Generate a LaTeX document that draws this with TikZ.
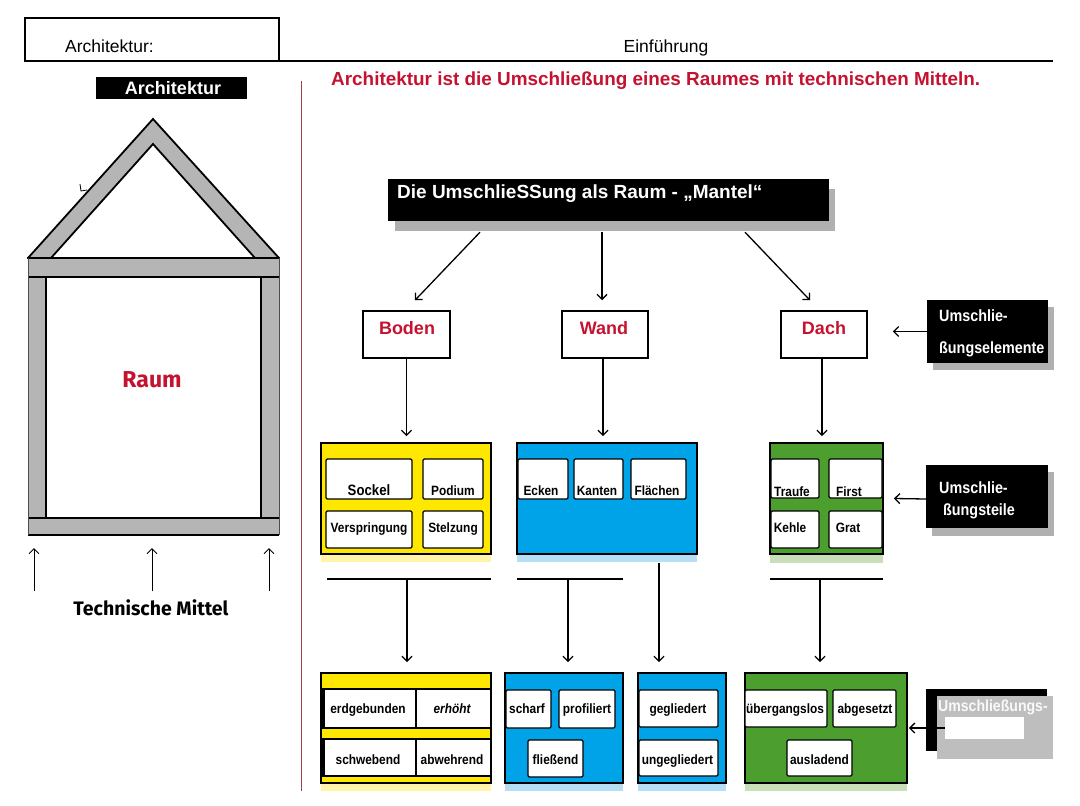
\documentclass[tikz,border=0pt]{standalone}
\usepackage{fontspec}
\setmainfont{Liberation Sans}
\newfontfamily\narrowfont{Liberation Sans}[FakeStretch=0.88]
\newfontfamily\comicfont{Fira Sans}
\usetikzlibrary{arrows.meta,fit}
\definecolor{ylw}{HTML}{FFE800}
\definecolor{ylwL}{HTML}{FFF4A8}
\definecolor{blu}{HTML}{00A2E8}
\definecolor{bluL}{HTML}{B6DFF5}
\definecolor{grn}{HTML}{4C9E2E}
\definecolor{grnL}{HTML}{C8DFB9}
\definecolor{redtxt}{HTML}{C41230}
\definecolor{redline}{HTML}{9E4048}
\definecolor{hgray}{HTML}{B5B5B5}
\definecolor{shgray}{HTML}{B0B0B0}
\definecolor{lastgray}{HTML}{BEBEBE}
\begin{document}
\begin{tikzpicture}[x=1pt,y=-1pt,
  conn/.style={line width=1.3pt,-{Straight Barb[length=5pt,width=10pt]}},
  frame/.style={draw=black,line width=1.8pt,inner sep=0pt},
  cell/.style={draw=black,line width=1.3pt,fill=white,inner sep=0pt,rounded corners=1.2pt},
  ctext/.style={font=\narrowfont\bfseries\fontsize{13.5}{15}\selectfont,inner sep=0pt,anchor=base},
  elem/.style={draw=black,line width=1.5pt,fill=white,inner sep=0pt},
  etext/.style={font=\bfseries\fontsize{18}{20}\selectfont,text=redtxt,inner sep=0pt,anchor=base},
  blk/.style={fill=black,inner sep=0pt},
  wtext/.style={font=\narrowfont\bfseries\fontsize{16.3}{18}\selectfont,text=white,inner sep=0pt,anchor=base west},
  hline/.style={line width=2pt},
  beam/.style={line width=2pt}
]
\useasboundingbox (0,0) rectangle (1080,806);

% ---------- header ----------
\draw[line width=1.5pt] (25,18) rectangle (279,61);
\draw[line width=1.5pt] (279,61) -- (1053,61);
\node[inner sep=0pt,anchor=base west,font=\fontsize{17.5}{19}\selectfont] (hdrA) at (65,52.5) {Architektur:};
\node[inner sep=0pt,anchor=base,font=\fontsize{17.5}{19}\selectfont] (hdrE) at (666,52.5) {Einführung};

% ---------- left: label ----------
\node[blk,fit={(96,77) (247,99)}] (lblbox) {};
\node[inner sep=0pt,anchor=base,font=\bfseries\fontsize{18}{19}\selectfont,text=white] (lbltxt) at (173,94.5) {Architektur};

% ---------- red divider ----------
\draw[redline,line width=1.8pt] (301.5,81) -- (301.5,791);

% ---------- heading ----------
\node[inner sep=0pt,anchor=base west,font=\bfseries\fontsize{18.9}{20}\selectfont,text=redtxt] (heading) at (331,85) {Architektur ist die Umschließung eines Raumes mit technischen Mitteln.};

% ---------- house ----------
\fill[hgray] (28,258) -- (153,119) -- (279,258) -- cycle;
\fill[white] (51,258) -- (153,144) -- (255,258) -- cycle;
\draw[line width=1.8pt,line join=miter] (28,258) -- (153,119) -- (279,258);
\draw[line width=1.8pt,line join=miter] (51,258) -- (153,144) -- (255,258);
\fill[hgray] (28,258) rectangle (279,535);
\fill[white] (46,277) rectangle (261,518);
\draw[beam] (27,258) -- (280,258);
\draw[beam] (28,277) -- (279,277);
\draw[beam] (46,277) -- (46,518);
\draw[beam] (261,277) -- (261,518);
\draw[beam] (28,518) -- (279,518);
\draw[beam] (28,535) -- (279,535);
\draw[gray!60!black,line width=0.8pt] (28,258) -- (28,535);
\draw[gray!60!black,line width=0.8pt] (279,258) -- (279,535);
\draw[line width=0.8pt] (80,184) -- (81,191) -- (87,190);
\node[inner sep=0pt,anchor=base,font=\comicfont\bfseries\fontsize{23}{25}\selectfont,text=redtxt] (raum) at (152,387) {Raum};
\coordinate (m1) at (34,591);
\coordinate (m2) at (152,591);
\coordinate (m3) at (269,591);
\draw[line width=1pt,-{Straight Barb[length=5pt,width=10pt]}] (m1) -- ++(0,-43);
\draw[line width=1pt,-{Straight Barb[length=5pt,width=10pt]}] (m2) -- ++(0,-43);
\draw[line width=1pt,-{Straight Barb[length=5pt,width=10pt]}] (m3) -- ++(0,-43);
\node[inner sep=0pt,anchor=base,font=\comicfont\bfseries\fontsize{19.5}{21}\selectfont] (techm) at (151,615) {Technische Mittel};

% ---------- top box ----------
\fill[shgray] (395,189) rectangle (835,231);
\node[blk,fit={(388,179) (829,221)}] (top) {};
\node[inner sep=0pt,anchor=base west,font=\bfseries\fontsize{19}{21}\selectfont,text=white] (toptxt) at (397,198) {Die UmschlieSSung als Raum - „Mantel“};

% ---------- elements ----------
\node[elem,fit={(363,311) (450,358)}] (boden) {};
\node[etext] (bodent) at (407,334) {Boden};
\node[elem,fit={(562,311) (648,358)}] (wand) {};
\node[etext] (wandt) at (604,334) {Wand};
\node[elem,fit={(781,311) (867,358)}] (dach) {};
\node[etext] (dacht) at (824,334) {Dach};

\draw[conn] ([xshift=-128.5pt,yshift=-11pt]top.south) -- ([xshift=8.5pt,yshift=10pt]boden.north);
\draw[conn] ([xshift=-6.5pt,yshift=-11pt]top.south) -- ([xshift=-3pt,yshift=10pt]wand.north);
\draw[conn] ([xshift=136.5pt,yshift=-11pt]top.south) -- ([xshift=-14pt,yshift=10pt]dach.north);

% ---------- right labels ----------
\fill[shgray] (933,307) rectangle (1054,370);
\node[blk,fit={(927,300) (1048,363)}] (ue1) {};
\node[wtext] (ue1a) at (939,321.5) {Umschlie-};
\node[wtext] (ue1b) at (939,353) {ßungselemente};
\coordinate (dachR) at ([xshift=25pt]dach.east);
\draw[conn] (ue1.west) -- (dachR |- ue1.west);

\fill[shgray] (932,472) rectangle (1054,536);
\node[blk,fit={(926,465) (1048,528)}] (ue2) {};
\node[wtext] (ue2a) at (939,493.5) {Umschlie-};
\node[wtext] (ue2b) at (943,515) {ßungsteile};

% ---------- second row: yellow ----------
\fill[ylwL] (321,554) rectangle (491,562);
\node[frame,fill=ylw,fit={(321,443) (491,554)}] (yel) {};
\node[cell,fit={(326,459) (412,499)}] (csockel) {};
\node[ctext,font=\narrowfont\bfseries\fontsize{15}{17}\selectfont] (tsockel) at (369,495) {Sockel};
\node[cell,fit={(423,459) (483,499)}] (cpodium) {};
\node[ctext] (tpodium) at (453,495) {Podium};
\node[cell,fit={(326,511) (412,548)}] (cversp) {};
\node[ctext] (tversp) at (369,532) {Verspringung};
\node[cell,fit={(423,511) (483,548)}] (cstelz) {};
\node[ctext] (tstelz) at (453,532) {Stelzung};

% blue
\fill[bluL] (517,554) rectangle (697,562);
\node[frame,fill=blu,fit={(517,443) (697,554)}] (blue) {};
\node[cell,fit={(518,459) (568,499)}] (cecken) {};
\node[ctext] (tecken) at (541,495) {Ecken};
\node[cell,fit={(574,459) (623,499)}] (ckanten) {};
\node[ctext] (tkanten) at (597,495) {Kanten};
\node[cell,fit={(631,459) (686,499)}] (cflaech) {};
\node[ctext] (tflaech) at (657,495) {Flächen};

% green
\fill[grnL] (770,554) rectangle (883,563);
\node[frame,fill=grn,fit={(770,443) (883,554)}] (green) {};
\node[cell,fit={(771,459) (819,498)}] (ctraufe) {};
\node[ctext] (ttraufe) at (792,496) {Traufe};
\node[cell,fit={(829,459) (882,498)}] (cfirst) {};
\node[ctext] (tfirst) at (849,496) {First};
\node[cell,fit={(771,511) (819,548)}] (ckehle) {};
\node[ctext] (tkehle) at (790,532.5) {Kehle};
\node[cell,fit={(829,511) (882,548)}] (cgrat) {};
\node[ctext] (tgrat) at (848,532.5) {Grat};

\draw[conn] (boden.south) -- ([yshift=6pt]yel.north -| boden.south);
\draw[conn] ([xshift=-2pt]wand.south) -- ([xshift=-2pt,yshift=6pt]blue.north -| wand.south);
\draw[conn] ([xshift=-2pt]dach.south) -- ([xshift=-2pt,yshift=6pt]green.north -| dach.south);
\draw[conn] ([yshift=-2.5pt]ue2.west) -- ([xshift=10pt]green.east);

% ---------- connector lines ----------
\draw[hline] (327,579) -- (491,579);
\draw[hline] (517,579) -- (623,579);
\draw[hline] (770,579) -- (883,579);
\coordinate (v1) at (407,579);
\coordinate (v2) at (568,579);
\coordinate (v3) at (659,563);
\coordinate (v4) at (820,579);

% ---------- bottom row: yellow ----------
\fill[ylwL] (321,783) rectangle (491,791);
\node[frame,fill=ylw,fit={(321,673) (491,783)}] (yelB) {};
\node[draw=black,line width=1.3pt,fill=white,inner sep=0pt,fit={(323,689) (416,728)}] (cerd) {};
\node[draw=black,line width=1.3pt,fill=white,inner sep=0pt,fit={(416,689) (491,728)}] (cerh) {};
\node[draw=black,line width=1.3pt,fill=white,inner sep=0pt,fit={(323,739) (416,776)}] (cschw) {};
\node[draw=black,line width=1.3pt,fill=white,inner sep=0pt,fit={(416,739) (491,776)}] (cabw) {};
\draw[line width=3pt] (323,689) -- (323,728);
\draw[line width=3pt] (323,739) -- (323,776);
\node[ctext] (terd) at (368,713) {erdgebunden};
\node[ctext,font=\narrowfont\bfseries\itshape\fontsize{13.5}{15}\selectfont] (terh) at (452,713) {erhöht};
\node[ctext] (tschw) at (368,764) {schwebend};
\node[ctext] (tabw) at (452,764) {abwehrend};

% blue 1
\fill[bluL] (505,783) rectangle (623,791);
\node[frame,fill=blu,fit={(505,673) (623,783)}] (bluB1) {};
\node[cell,fit={(506,690) (551,728)}] (cscharf) {};
\node[ctext] (tscharf) at (527,713) {scharf};
\node[cell,fit={(559,690) (615,728)}] (cprof) {};
\node[ctext] (tprof) at (587,713) {profiliert};
\node[cell,fit={(528,740) (583,777)}] (cfliess) {};
\node[ctext] (tfliess) at (555.5,764) {fließend};

% blue 2
\fill[bluL] (638,783) rectangle (726,791);
\node[frame,fill=blu,fit={(638,673) (726,783)}] (bluB2) {};
\node[cell,fit={(639,690) (718,727)}] (cgegl) {};
\node[ctext] (tgegl) at (678,713) {gegliedert};
\node[cell,fit={(639,740) (718,776)}] (cungegl) {};
\node[ctext] (tungegl) at (677.5,764) {ungegliedert};

% green
\fill[grnL] (745,783) rectangle (907,791);
\node[frame,fill=grn,fit={(745,673) (907,783)}] (grnB) {};
\node[cell,fit={(745,690) (827,727)}] (cuebg) {};
\node[ctext] (tuebg) at (785,713) {übergangslos};
\node[cell,fit={(833,690) (896,727)}] (cabges) {};
\node[ctext] (tabges) at (865,713) {abgesetzt};
\node[cell,fit={(787,740) (852,776)}] (caus) {};
\node[ctext] (taus) at (819.5,764) {ausladend};

\draw[conn] (v1) -- ([yshift=10pt]yelB.north -| v1);
\draw[conn] (v2) -- ([yshift=10pt]bluB1.north -| v2);
\draw[conn] (v3) -- ([yshift=10pt]bluB2.north -| v3);
\draw[conn] (v4) -- ([yshift=10pt]grnB.north -| v4);

% last label
\node[blk,fit={(926,689) (1047,751)}] (ue3) {};
\fill[lastgray] (937,696) rectangle (1053,759);
\node[fill=white,inner sep=0pt,fit={(945,717) (1024,739)}] (ue3w) {};
\node[wtext,text=white!95!gray,font=\narrowfont\bfseries\fontsize{16}{18}\selectfont] (ue3t) at (938,711.5) {Umschließungs-};
\draw[conn] (ue3w.west) -- ([xshift=1pt]grnB.east);
\end{tikzpicture}
\end{document}
